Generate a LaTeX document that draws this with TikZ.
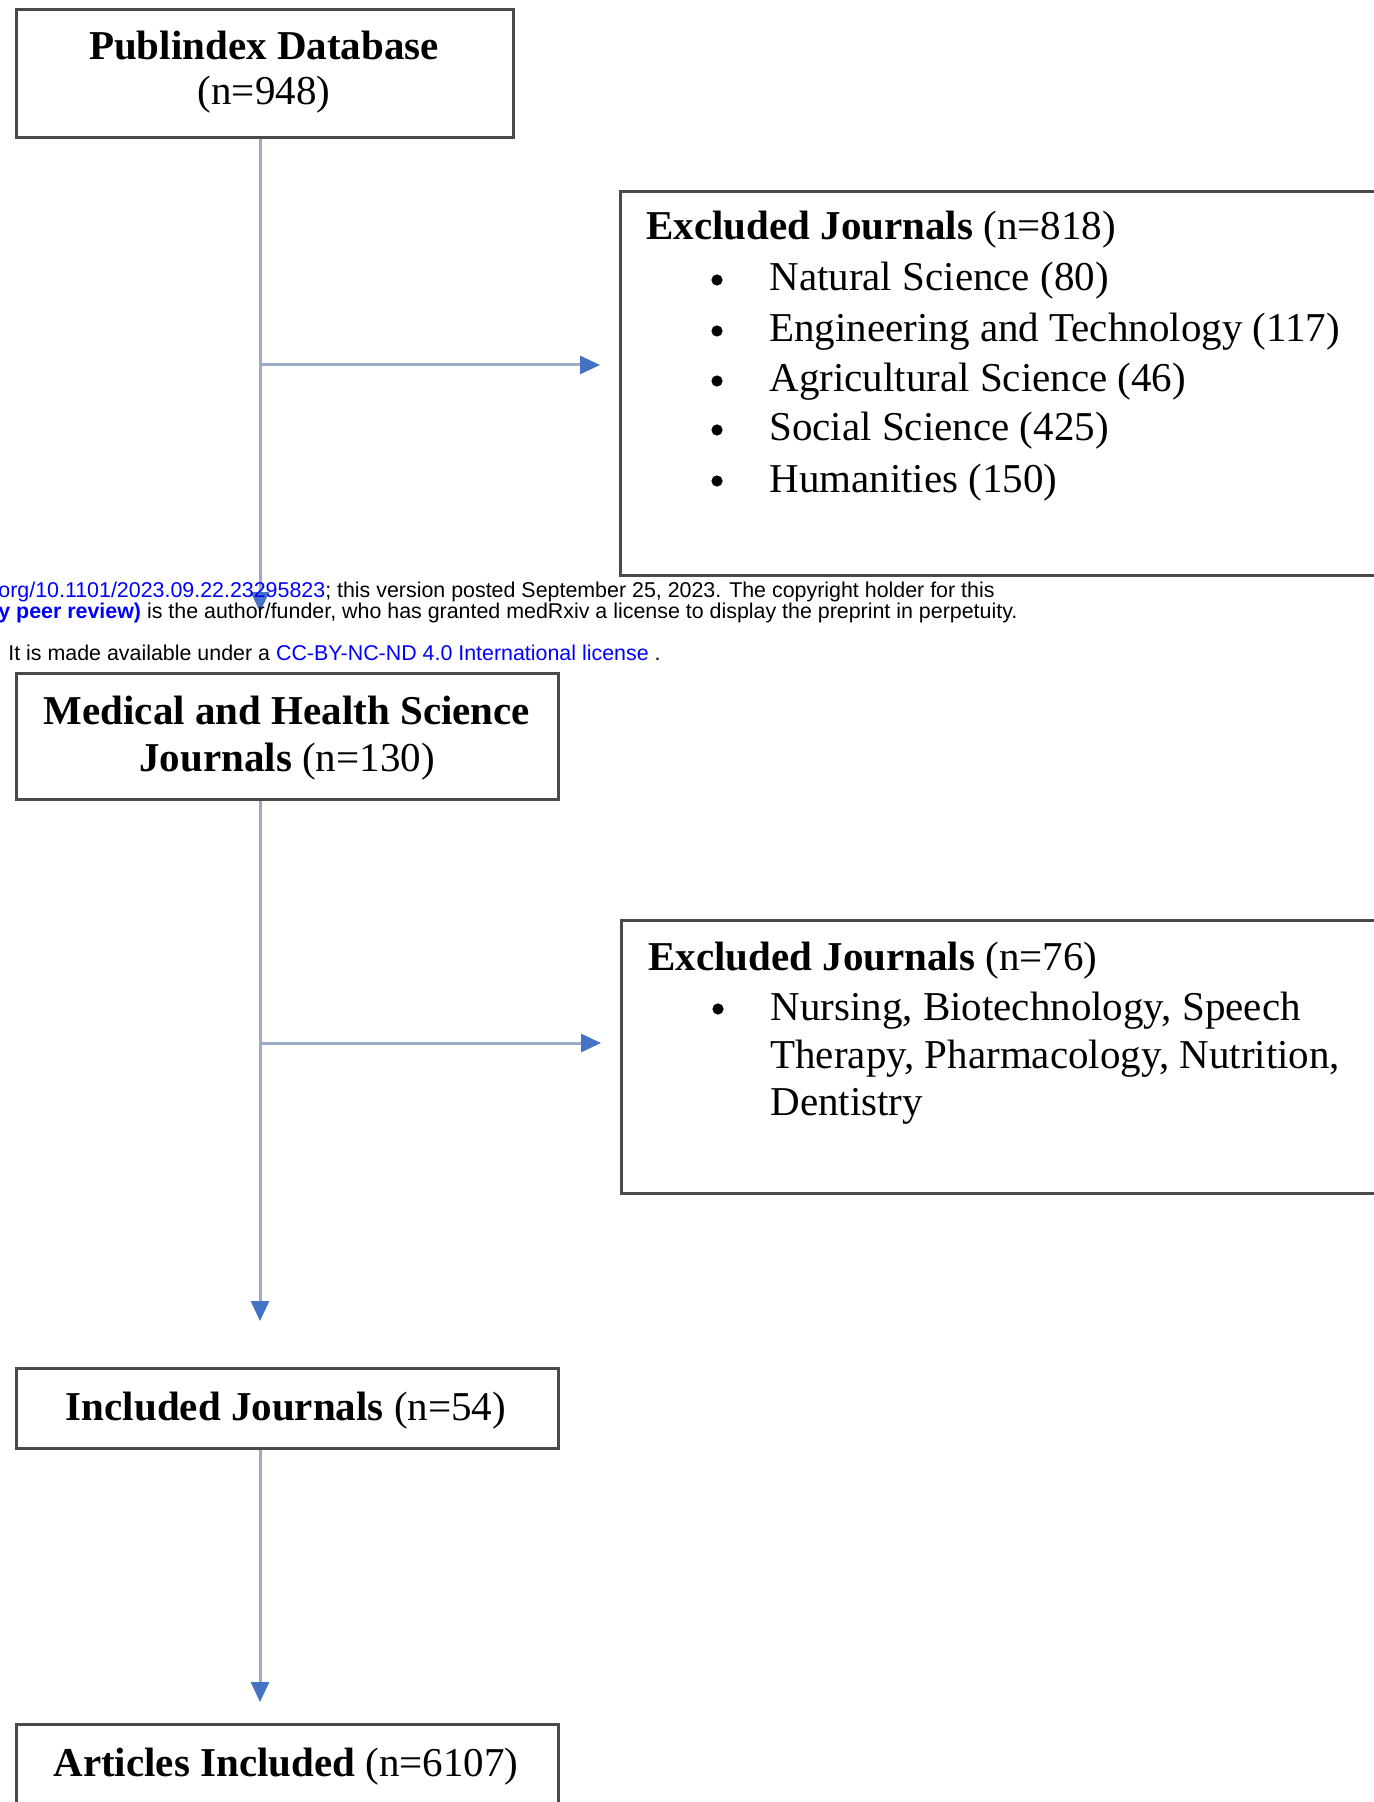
\documentclass[tikz,border=0pt]{standalone}
\usepackage{fontspec}
\setmainfont{Liberation Serif}
\newfontfamily\overlayfont{Liberation Sans}
\usetikzlibrary{arrows.meta}
\definecolor{boxgray}{HTML}{4A4A4A}
\definecolor{linegray}{HTML}{9AAAC8}
\definecolor{tipblue}{HTML}{4472C4}
\definecolor{linkblue}{HTML}{0000FF}
\begin{document}
\begin{tikzpicture}[x=0.5pt,y=-0.5pt,
  box/.style={draw=boxgray,line width=1.3pt,rectangle,inner sep=0pt,anchor=north west},
  txt/.style={inner sep=0pt,font=\fontsize{20.5}{24}\selectfont},
  ctxt/.style={txt,anchor=base},
  ltxt/.style={txt,anchor=base west},
  dot/.style={circle,fill=black,inner sep=0pt,minimum size=5.6pt},
  conn/.style={draw=linegray,line width=1.5pt,-{Triangle[length=10pt,width=9pt,color=tipblue]}},
  ov/.style={inner sep=0pt,anchor=base west,font=\overlayfont\fontsize{10.7}{12}\selectfont}
]
\useasboundingbox (0,0) rectangle (1374,1802);
\clip (0,0) rectangle (1374,1802);
\fill[white] (0,0) rectangle (1374,1802);

% boxes
\node[box,minimum width=248.5pt,minimum height=64pt] (pub) at (15,8) {};
\node[box,minimum width=400pt,minimum height=192pt] (ex1) at (619,190) {};
\node[box,minimum width=271pt,minimum height=63pt] (med) at (15,672) {};
\node[box,minimum width=400pt,minimum height=136.5pt] (ex2) at (620,919) {};
\node[box,minimum width=271pt,minimum height=40pt] (inc) at (15,1367) {};
\node[box,minimum width=271pt,minimum height=41pt] (art) at (15,1723) {};

% texts
\node[ctxt] (pubA) at (264,60) {\textbf{Publindex Database}};
\node[ctxt] (pubB) at (264,105) {(n=948)};

\node[ltxt] (exA) at (646,240) {\textbf{Excluded Journals} (n=818)};
\node[dot] (bA1) at (717,280) {};
\node[dot] (bA2) at (717,331) {};
\node[dot] (bA3) at (717,381) {};
\node[dot] (bA4) at (717,430) {};
\node[dot] (bA5) at (717,481) {};
\node[ltxt] (iA1) at (769,291) {Natural Science (80)};
\node[ltxt] (iA2) at (769,342) {Engineering and Technology (117)};
\node[ltxt] (iA3) at (769,392) {Agricultural Science (46)};
\node[ltxt] (iA4) at (769,441) {Social Science (425)};
\node[ltxt] (iA5) at (769,492) {Humanities (150)};

\node[ctxt] (medA) at (287,724) {\textbf{Medical and Health Science}};
\node[ctxt] (medB) at (287,771) {\textbf{Journals} (n=130)};

\node[ltxt] (exB) at (648,970) {\textbf{Excluded Journals} (n=76)};
\node[dot] (bB1) at (718,1009) {};
\node[ltxt] (iB1) at (770,1020) {Nursing, Biotechnology, Speech};
\node[ltxt] (iB2) at (770,1068) {Therapy, Pharmacology, Nutrition,};
\node[ltxt] (iB3) at (770,1115) {Dentistry};

\node[ctxt] (incA) at (286,1420) {\textbf{Included Journals} (n=54)};
\node[ctxt] (artA) at (286,1776) {\textbf{Articles Included} (n=6107)};

% connectors
\coordinate (trunk) at (260,0);
\coordinate (br1) at (260,365);
\coordinate (br2) at (260,1043);
\draw[conn,shorten >=30pt] (pub.south -| trunk) -- (med.north -| trunk);
\draw[conn,shorten >=9.5pt] (br1) -- (ex1.west |- br1);
\draw[conn,shorten >=23pt] (med.south -| trunk) -- (inc.north -| trunk);
\draw[conn,shorten >=9.5pt] (br2) -- (ex2.west |- br2);
\draw[conn,shorten >=10.5pt] (inc.south -| trunk) -- (art.north -| trunk);

% overlay text
\node[ov] (ov1) at (-2,597) {\textcolor{linkblue}{org/10.1101/2023.09.22.23295823}; this version posted September 25, 2023. The copyright holder for this};
\node[ov] (ov2) at (-2,618) {\textcolor{linkblue}{\bfseries y peer review)} is the author/funder, who has granted medRxiv a license to display the preprint in perpetuity.};
\node[ov] (ov3) at (8,660) {It is made available under a \textcolor{linkblue}{CC-BY-NC-ND 4.0 International license} .};
\end{tikzpicture}
\end{document}
